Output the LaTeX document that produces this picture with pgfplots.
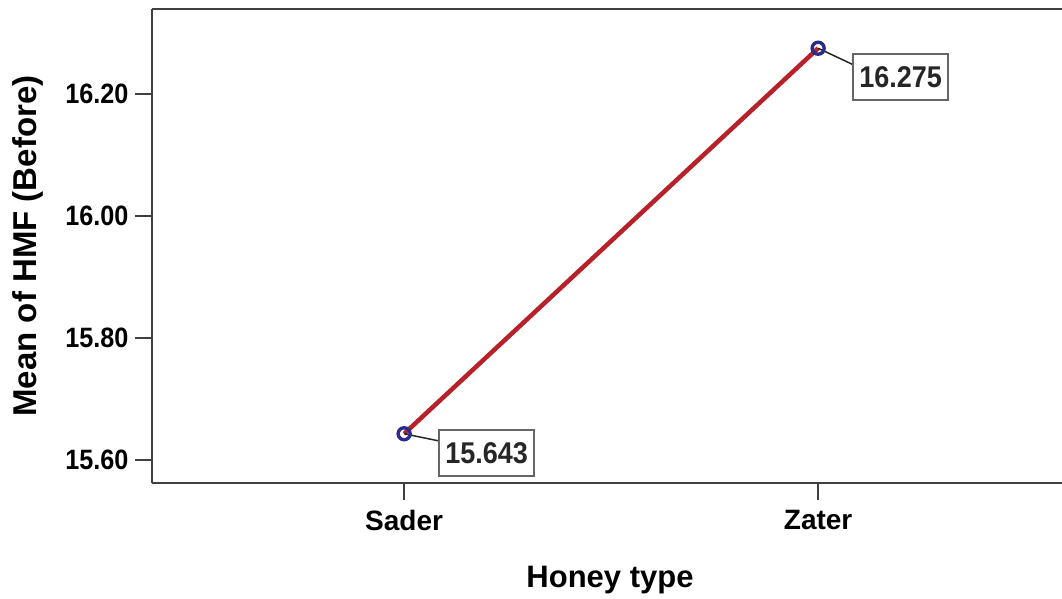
\documentclass[border=0pt]{standalone}
\usepackage{fontspec}
\setmainfont{Liberation Sans}
\newfontfamily\tickfont{Liberation Sans}[FakeStretch=0.9]
\usepackage{pgfplots}
\pgfplotsset{compat=1.18}
\definecolor{linered}{HTML}{B8202A}
\definecolor{marknavy}{HTML}{2B2B8C}
\begin{document}
\begin{tikzpicture}
\begin{axis}[
  at={(152pt,115pt)}, anchor=south west,
  scale only axis, width=910pt, height=474pt,
  xmin=-0.609, xmax=1.589,
  ymin=15.5623, ymax=16.3393,
  axis x line=box, axis y line=left,
  x axis line style={-, line width=2.6pt, black!75},
  y axis line style={-, line width=2.6pt, black!75},
  xtick pos=bottom, ytick pos=left,
  tick align=outside,
  major tick length=17pt,
  tick style={line width=2.2pt, black!75},
  xtick={0,1}, xticklabels={Sader,Zater},
  ytick={15.6,15.8,16.0,16.2},
  yticklabel={\pgfmathprintnumber[fixed,fixed zerofill,precision=2]{\tick}},
  /pgf/number format/assume math mode=true,
  yticklabel style={font=\tickfont\bfseries\fontsize{28}{30}\selectfont, xshift=-3pt},
  xticklabel style={font=\bfseries\fontsize{28}{30}\selectfont, yshift=-7pt},
  xlabel={Honey type},
  ylabel={Mean of HMF (Before)},
  xlabel style={font=\bfseries\fontsize{31}{36}\selectfont, at={(axis description cs:0.5,0)}, anchor=base, yshift=-104pt, xshift=3pt},
  ylabel style={font=\bfseries\fontsize{33}{36}\selectfont, at={(axis description cs:-0.1363,0.5)}, anchor=center},
  clip=false,
]
\addplot[color=linered, line width=4.5pt, mark=o,
  mark options={draw=marknavy, line width=3.4pt, solid}, mark size=6pt]
  coordinates {(0,15.643) (1,16.275)};
\draw[black!85, line width=1.5pt] (axis cs:0,15.643) -- ++(34pt,-7pt)
  node[draw=black!60, line width=2pt, fill=white, anchor=west, yshift=-12pt,
       minimum width=95pt, minimum height=46pt, inner sep=0pt,
       font=\tickfont\bfseries\fontsize{30}{32}\selectfont] {15.643};
\draw[black!85, line width=1.5pt] (axis cs:1,16.275) -- ++(34pt,-16pt)
  node[draw=black!60, line width=2pt, fill=white, anchor=west, yshift=-13pt,
       minimum width=95pt, minimum height=46pt, inner sep=0pt,
       font=\tickfont\bfseries\fontsize{30}{32}\selectfont] {16.275};
\end{axis}
\pgfresetboundingbox
\path[use as bounding box] (0,0) rectangle (1062pt,598pt);
\end{tikzpicture}
\end{document}
